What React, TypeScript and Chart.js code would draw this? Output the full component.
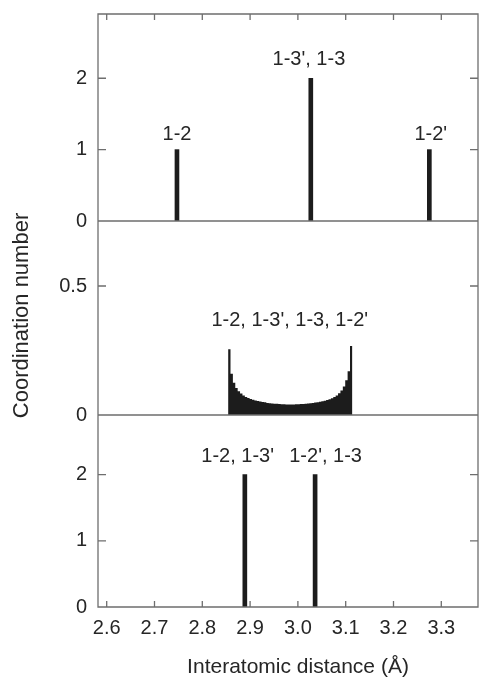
import React, { useEffect, useRef } from 'react';
import { Chart, registerables } from 'chart.js';

Chart.register(...registerables);

// ---- data ----
const xTickValues = [2.6, 2.7, 2.8, 2.9, 3.0, 3.1, 3.2, 3.3];
const topTickValues = [0, 1, 2];
const midTickValues = [0, 0.5];
const bottomTickValues = [0, 1, 2];

// top panel: sticks
const topDistance = [2.747, 3.027, 3.275];
const topCoordination = [1, 2, 1];

// middle panel: histogram (bin left edges + final right edge)
const histEdges = [
  2.854, 2.859, 2.864, 2.869, 2.874, 2.879, 2.884, 2.889, 2.894, 2.899,
  2.904, 2.909, 2.914, 2.919, 2.924, 2.929, 2.934, 2.939, 2.944, 2.949,
  2.954, 2.959, 2.964, 2.969, 2.974, 2.979, 2.984, 2.989, 2.994, 2.999,
  3.004, 3.009, 3.014, 3.019, 3.024, 3.029, 3.034, 3.039, 3.044, 3.049,
  3.054, 3.059, 3.064, 3.069, 3.074, 3.079, 3.084, 3.089, 3.094, 3.099,
  3.104, 3.109, 3.114,
];
const histCoordination = [
  0.255, 0.16, 0.125, 0.105, 0.092, 0.083, 0.076, 0.07, 0.066, 0.062,
  0.059, 0.056, 0.054, 0.052, 0.05, 0.049, 0.047, 0.046, 0.045, 0.044,
  0.044, 0.043, 0.042, 0.042, 0.041, 0.041, 0.041, 0.041, 0.042, 0.042,
  0.043, 0.043, 0.044, 0.045, 0.046, 0.047, 0.048, 0.049, 0.051, 0.053,
  0.055, 0.058, 0.061, 0.065, 0.07, 0.076, 0.084, 0.095, 0.11, 0.135,
  0.17, 0.267,
];

// bottom panel: sticks
const bottomDistance = [2.889, 3.036];
const bottomCoordination = [2, 2];

// annotations
const topLabels = ["1-2", "1-3', 1-3", "1-2'"];
const topLabelX = [2.747, 3.023, 3.278];
const topLabelY = [1.13, 2.18, 1.13];
const midLabels = ["1-2, 1-3', 1-3, 1-2'"];
const midLabelX = [2.983];
const midLabelY = [0.345];
const bottomLabels = ["1-2, 1-3'", "1-2', 1-3"];
const bottomLabelX = [2.874, 3.058];
const bottomLabelY = [2.19, 2.19];

const xTitle = 'Interatomic distance (Å)';
const yTitle = 'Coordination number';

const FONT = '"Liberation Sans", Arial, Helvetica, sans-serif';
const TEXT = '#262626';
const FRAME = '#6e6e6e';
const INK = '#1c1c1c';

export default function App() {
  const ref = useRef<HTMLCanvasElement | null>(null);

  useEffect(() => {
    const canvas = ref.current;
    if (!canvas) return;

    const histPoints = histCoordination.map((v, i) => ({ x: histEdges[i], y: v }));
    histPoints.push({ x: histEdges[histEdges.length - 1], y: histCoordination[histCoordination.length - 1] });

    const framePlugin = {
      id: 'frame',
      afterDraw(chart: any) {
        const ctx = chart.ctx;
        const ca = chart.chartArea;
        const s = chart.scales;
        ctx.save();
        ctx.strokeStyle = FRAME;
        ctx.lineWidth = 1.3;
        ctx.beginPath();
        ctx.rect(ca.left, ca.top, ca.right - ca.left, ca.bottom - ca.top);
        ctx.moveTo(ca.left, s.yTop.bottom);
        ctx.lineTo(ca.right, s.yTop.bottom);
        ctx.moveTo(ca.left, s.yMid.bottom);
        ctx.lineTo(ca.right, s.yMid.bottom);
        const yTicks: [string, number[]][] = [
          ['yTop', topTickValues],
          ['yMid', midTickValues],
          ['yBot', bottomTickValues],
        ];
        yTicks.forEach(([id, vals]) => {
          vals.forEach((v) => {
            const py = s[id].getPixelForValue(v);
            ctx.moveTo(ca.left, py);
            ctx.lineTo(ca.left + 8, py);
            ctx.moveTo(ca.right, py);
            ctx.lineTo(ca.right - 8, py);
          });
        });
        xTickValues.forEach((v) => {
          const px = s.x.getPixelForValue(v);
          ctx.moveTo(px, ca.bottom);
          ctx.lineTo(px, ca.bottom - 6);
          ctx.moveTo(px, ca.top);
          ctx.lineTo(px, ca.top + 6);
        });
        ctx.stroke();

        ctx.fillStyle = TEXT;
        ctx.font = `20px ${FONT}`;
        ctx.textAlign = 'center';
        ctx.textBaseline = 'alphabetic';
        const groups: [string, string[], number[], number[]][] = [
          ['yTop', topLabels, topLabelX, topLabelY],
          ['yMid', midLabels, midLabelX, midLabelY],
          ['yBot', bottomLabels, bottomLabelX, bottomLabelY],
        ];
        groups.forEach(([id, labels, xs, ys]) => {
          labels.forEach((t, i) => {
            ctx.fillText(t, s.x.getPixelForValue(xs[i]), s[id].getPixelForValue(ys[i]));
          });
        });

        ctx.font = `21px ${FONT}`;
        ctx.fillText(xTitle, (ca.left + ca.right) / 2 + 10, 673);
        ctx.save();
        ctx.font = `22px ${FONT}`;
        ctx.translate(22, (ca.top + ca.bottom) / 2 + 5);
        ctx.rotate(-Math.PI / 2);
        ctx.textBaseline = 'middle';
        ctx.fillText(yTitle, 0, 0);
        ctx.restore();
        ctx.restore();
      },
    };

    const yAxis = (ticks: number[], max: number, weight: number) => ({
      type: 'linear',
      position: 'left',
      stack: 'panels',
      stackWeight: weight,
      min: 0,
      max,
      grid: { display: false, drawTicks: false },
      border: { display: false },
      afterBuildTicks: (scale: any) => {
        scale.ticks = ticks.map((v) => ({ value: v }));
      },
      afterFit: (scale: any) => {
        scale.width = 98;
        scale.paddingTop = 0;
        scale.paddingBottom = 0;
      },
      ticks: {
        padding: 11,
        color: TEXT,
        font: { family: FONT, size: 20 },
        callback: (v: any) => String(v),
      },
    });

    const chart = new Chart(canvas, {
      type: 'bar',
      data: {
        datasets: [
          {
            type: 'bar',
            data: topDistance.map((x, i) => ({ x, y: topCoordination[i] })),
            xAxisID: 'x',
            yAxisID: 'yTop',
            backgroundColor: INK,
            barThickness: 4,
            skipNull: true,
          } as any,
          {
            type: 'line',
            data: histPoints,
            xAxisID: 'x',
            yAxisID: 'yMid',
            stepped: true,
            fill: 'origin',
            backgroundColor: INK,
            borderColor: INK,
            borderWidth: 0,
            pointRadius: 0,
          } as any,
          {
            type: 'bar',
            data: bottomDistance.map((x, i) => ({ x, y: bottomCoordination[i] })),
            xAxisID: 'x',
            yAxisID: 'yBot',
            backgroundColor: INK,
            barThickness: 4,
            skipNull: true,
          } as any,
        ],
      },
      options: {
        animation: false,
        responsive: false,
        maintainAspectRatio: false,
        devicePixelRatio: 1,
        layout: { padding: { top: 14, right: 2, left: 0, bottom: 0 } },
        plugins: { legend: { display: false }, tooltip: { enabled: false } },
        scales: {
          x: {
            type: 'linear',
            offset: false,
            min: 2.5818,
            max: 3.3768,
            grid: { display: false, drawTicks: false, offset: false },
            border: { display: false },
            afterBuildTicks: (scale: any) => {
              scale.ticks = xTickValues.map((v) => ({ value: v }));
            },
            afterFit: (scale: any) => {
              scale.height = 71;
              scale.paddingLeft = 0;
              scale.paddingRight = 0;
            },
            ticks: {
              padding: 9,
              maxRotation: 0,
              autoSkip: false,
              color: TEXT,
              font: { family: FONT, size: 20 },
              callback: (v: any) => Number(v).toFixed(1),
            },
          },
          yBot: yAxis(bottomTickValues, 2.9, 192),
          yMid: yAxis(midTickValues, 0.752, 194),
          yTop: yAxis(topTickValues, 2.9, 207),
        } as any,
      },
      plugins: [framePlugin],
    } as any);

    return () => chart.destroy();
  }, []);

  return (
    <div style={{ position: 'fixed', left: 0, top: 0, width: 480, height: 678, background: '#fff' }}>
      <canvas ref={ref} width={480} height={678} style={{ display: 'block', width: 480, height: 678 }} />
    </div>
  );
}
